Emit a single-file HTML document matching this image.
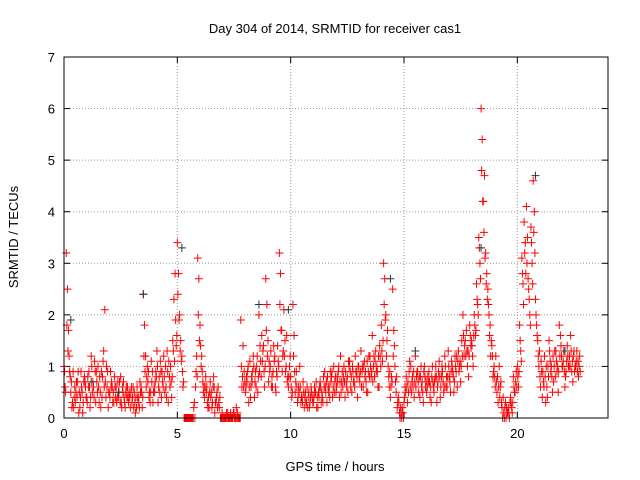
<!DOCTYPE html>
<html><head><meta charset="utf-8"><style>
html,body{margin:0;padding:0;background:#fff;}
svg{display:block;font-family:"Liberation Sans",sans-serif;}
</style></head><body>
<svg id="chart" width="640" height="480">
<text x="335" y="33" font-size="13" text-anchor="middle">Day 304 of 2014, SRMTID for receiver cas1</text>
<text x="335" y="471" font-size="13" text-anchor="middle">GPS time / hours</text>
<text x="18" y="237" font-size="13" text-anchor="middle" transform="rotate(-90 18 237)">SRMTID / TECUs</text>
<g id="grid"></g>
<g id="ticks"></g>
<g id="marks"></g>
<rect x="64" y="57" width="544" height="361" fill="none" stroke="#000" stroke-width="1"/>
</svg>
<script>
const xTicks=[0,5,10,15,20];
const yTicks=[0,1,2,3,4,5,6,7];
const hourStarts=[0,1,2,3,4,5,6,7,8,9,10,11,12,13,14,15,16,17,18,19,20,21,22];
const seriesA=[
[1.0,3.2,1.7,0.5,0.9,0.3,0.7,0.2,0.5,0.8],
[0.4,0.9,1.2,0.6,0.3,1.0,0.5,0.8,2.1,0.6],
[0.5,0.7,0.3,0.6,0.4,0.8,0.5,0.2,0.6,0.4],
[0.3,0.5,0.2,0.4,0.6,2.4,1.2,0.7,0.3,0.9],
[0.5,1.3,0.8,0.4,1.2,0.6,0.3,1.0,1.5,2.8],
[3.4,2.0,1.2,0.0,0.0,0.0,0.0,0.0,0.6,3.1],
[1.8,0.9,0.4,0.6,0.2,0.5,0.8,0.3,0.6,0.0],
[0.0,0.0,0.0,0.0,0.0,0.1,0.2,0.0,1.9,1.4],
[0.5,0.9,1.1,0.7,0.4,1.0,2.0,0.8,1.4,2.7],
[1.5,1.0,0.6,1.2,0.8,3.2,1.7,2.1,1.0,0.6],
[0.8,2.2,0.5,0.3,1.0,0.4,0.2,0.3,0.5,0.6],
[0.3,0.5,0.2,0.7,0.4,0.9,0.3,0.6,0.8,1.0],
[0.5,0.9,1.2,0.6,0.4,0.8,1.1,0.5,0.7,0.9],
[1.0,1.3,0.6,0.9,0.5,1.2,1.6,0.8,1.0,0.6],
[1.8,3.0,2.0,1.0,0.4,2.5,1.0,0.2,0.1,0.0],
[0.3,0.8,0.5,1.0,0.6,1.2,0.9,0.4,0.7,1.0],
[0.5,0.9,0.3,0.6,1.0,0.7,0.4,0.9,1.2,0.6],
[0.8,1.1,0.5,0.9,1.3,0.7,2.0,1.5,1.0,1.8],
[1.4,2.0,2.6,3.5,6.0,4.2,3.2,2.5,1.8,1.2],
[0.8,0.5,1.0,0.3,0.1,0.0,0.2,0.4,0.3,0.5],
[1.0,1.8,3.1,3.8,4.1,2.5,3.7,4.6,2.3,1.5],
[0.8,0.4,1.2,0.6,1.5,1.0,0.7,1.3,0.5,1.6],
[1.0,0.6,1.4,1.2,0.9,1.3,1.1,0.8]];
const seriesB=[
[0.6,2.5,0.9,0.2,0.4,0.7,0.1,0.9,0.3,0.6],
[0.8,0.2,0.5,1.1,0.7,0.3,0.9,1.3,0.4,0.2],
[0.9,0.3,0.6,0.4,0.7,0.2,0.4,0.6,0.3,0.5],
[0.6,0.1,0.4,0.7,0.2,1.8,0.8,0.4,1.1,0.5],
[0.9,0.3,1.1,0.7,0.5,1.3,0.8,0.4,2.3,1.4],
[2.8,1.5,0.6,0.0,0.0,0.0,0.0,0.3,1.2,2.7],
[1.0,0.5,0.8,0.2,0.7,0.3,0.1,0.5,0.2,0.0],
[0.0,0.0,0.0,0.1,0.0,0.0,0.1,0.0,0.6,0.9],
[0.8,0.3,0.6,1.2,0.9,0.5,1.4,1.1,0.6,2.2],
[1.1,0.6,1.4,0.5,1.1,2.8,1.2,1.5,0.7,1.0],
[0.4,1.6,0.9,0.6,0.3,0.7,0.5,0.2,0.3,0.4],
[0.6,0.2,0.4,0.3,0.8,0.5,0.6,0.9,0.4,0.7],
[0.8,0.4,0.7,1.0,0.7,1.1,0.6,0.9,1.2,0.4],
[0.7,0.9,1.1,0.5,1.2,0.8,1.0,1.3,0.6,1.2],
[1.1,2.7,1.5,0.6,0.8,1.7,0.5,0.4,0.2,0.1],
[0.6,0.3,1.1,0.7,0.4,0.8,0.5,1.0,0.3,0.6],
[0.8,0.4,1.0,0.7,0.3,1.1,0.8,0.5,0.6,1.3],
[0.5,0.9,1.2,0.6,1.0,1.5,1.2,1.7,0.8,1.4],
[1.0,1.6,2.2,3.0,5.4,4.7,2.8,2.0,1.5,0.9],
[1.2,0.3,0.6,0.0,0.2,0.1,0.0,0.2,0.6,0.9],
[0.6,1.3,2.6,3.4,3.5,2.0,3.0,4.0,1.8,1.0],
[1.1,0.7,0.3,1.0,1.1,0.5,1.3,0.9,1.8,1.2],
[1.3,0.9,1.0,1.6,0.7,1.0,0.9,1.2]];
const seriesC=[
[0.9,1.8,1.2,0.7,0.2,0.5,0.9,0.4,0.1,0.7],
[0.3,0.6,1.0,0.4,0.9,0.6,0.2,1.1,0.7,0.9],
[0.4,0.6,0.8,0.3,0.5,0.3,0.7,0.5,0.4,0.2],
[0.4,0.3,0.6,0.2,0.5,1.2,0.6,0.9,0.5,0.3],
[0.7,1.0,0.5,0.9,0.8,0.4,1.1,0.7,1.3,1.9],
[2.4,1.3,0.9,0.0,0.0,0.0,0.0,0.2,0.9,2.0],
[1.4,0.7,0.6,0.3,0.5,0.2,0.6,0.4,0.3,0.0],
[0.0,0.0,0.1,0.0,0.0,0.0,0.0,0.0,1.0,0.6],
[0.6,1.0,0.4,0.9,0.7,1.2,0.9,1.6,0.9,1.7],
[0.7,1.3,0.9,0.6,1.4,2.2,0.9,1.2,1.6,0.8],
[0.6,1.2,0.7,0.4,0.6,0.3,0.4,0.6,0.2,0.5],
[0.4,0.7,0.5,0.6,0.3,0.6,0.8,0.4,0.9,0.5],
[0.6,1.0,0.5,0.8,0.9,0.5,0.9,1.0,0.6,0.8],
[0.8,0.6,1.0,0.7,0.9,1.0,0.7,1.1,0.9,1.4],
[1.3,2.2,1.2,0.8,0.6,1.2,0.7,0.3,0.0,0.2],
[0.4,0.6,0.9,0.5,0.9,0.6,0.7,0.8,0.5,0.8],
[0.6,0.7,0.8,0.5,0.8,0.9,0.6,0.7,1.0,0.8],
[0.7,1.0,0.7,1.2,0.9,1.0,1.6,1.2,1.3,1.6],
[1.2,1.8,2.3,3.3,4.8,3.6,2.6,2.2,1.2,0.8],
[0.6,0.8,0.4,0.2,0.0,0.2,0.1,0.3,0.8,0.7],
[0.8,1.5,2.8,3.2,3.0,2.3,3.4,3.6,2.0,1.2],
[0.6,0.9,0.8,0.4,1.3,0.8,1.0,1.1,0.9,1.4],
[1.1,0.8,1.2,1.0,1.1,0.9,1.3,1.0]];
const seriesD=[
[0.5,1.3,0.8,0.3,0.6,0.4,0.5,0.6,0.7,0.4],
[0.6,0.4,0.7,0.9,0.5,0.8,0.4,0.6,1.0,0.5],
[0.6,0.5,0.4,0.7,0.3,0.6,0.3,0.4,0.5,0.6],
[0.2,0.4,0.3,0.5,0.4,0.9,1.0,0.5,0.7,0.6],
[0.8,0.6,0.9,0.6,1.0,0.9,0.6,0.8,1.1,1.6],
[1.9,1.1,0.7,0.0,0.0,0.0,0.0,0.0,0.8,1.5],
[1.2,0.6,0.5,0.4,0.4,0.6,0.3,0.2,0.4,0.1],
[0.0,0.1,0.0,0.0,0.1,0.0,0.0,0.0,0.8,0.7],
[0.7,0.6,0.8,1.0,0.6,0.8,1.1,1.3,1.0,1.2],
[0.9,0.8,1.1,0.9,1.0,1.7,1.3,0.9,0.8,1.2],
[0.5,0.9,0.6,0.5,0.4,0.5,0.3,0.4,0.4,0.3],
[0.5,0.4,0.6,0.5,0.6,0.7,0.5,0.7,0.6,0.8],
[0.7,0.7,0.9,0.7,0.6,1.0,0.8,0.7,0.9,1.0],
[0.9,1.0,0.8,1.1,0.8,0.9,1.2,0.9,1.2,1.0],
[1.5,1.9,1.7,0.9,0.7,1.4,0.8,0.3,0.1,0.0],
[0.5,0.7,0.6,0.8,0.7,0.9,0.8,0.6,0.9,0.7],
[0.7,0.6,0.7,0.8,0.6,0.8,1.0,0.6,0.8,1.0],
[0.9,0.8,1.0,1.1,1.1,1.2,1.4,1.3,1.2,1.5],
[1.6,1.7,2.0,2.7,4.2,3.1,2.3,1.6,1.4,1.0],
[0.7,0.6,0.7,0.4,0.3,0.1,0.3,0.1,0.5,0.6],
[0.9,1.1,2.2,2.8,2.7,1.8,2.6,3.2,1.6,1.3],
[0.9,0.6,1.0,0.8,0.9,1.2,0.8,1.0,1.2,1.0],
[0.9,1.1,1.0,1.3,1.2,1.0,1.1,0.9]];
const grayTimes=[0.3,1.2,3.5,5.2,8.6,9.9,14.4,15.5,18.4,20.8,22.1,2.4];
const grayValues=[1.9,0.7,2.4,3.3,2.2,2.1,2.7,1.3,3.3,4.7,1.3,0.5];

const X0=64,X1=608,Y0=418,Y1=57;
const xs=t=>X0+(t/24)*(X1-X0);
const ys=v=>Y0-(v/7)*(Y0-Y1);
const NS="http://www.w3.org/2000/svg";
const grid=document.getElementById('grid'),ticks=document.getElementById('ticks'),marks=document.getElementById('marks');
function mk(tag,attrs,parent){const e=document.createElementNS(NS,tag);for(const k in attrs)e.setAttribute(k,attrs[k]);parent.appendChild(e);return e;}
yTicks.forEach(v=>{
  const y=ys(v);
  if(v>0&&v<7){const g=mk('line',{x1:X0,x2:X1,y1:y,y2:y,stroke:'#999','stroke-dasharray':'1,2'},grid);
  
  }
  mk('line',{x1:X0,x2:X0+6,y1:y,y2:y,stroke:'#000'},ticks);
  mk('line',{x1:X1,x2:X1-6,y1:y,y2:y,stroke:'#000'},ticks);
  const t=mk('text',{x:X0-9,y:y+5,'font-size':13,'text-anchor':'end'},ticks);t.textContent=v;
  
  
});
xTicks.forEach(v=>{
  const x=xs(v);
  if(v>0){const g=mk('line',{x1:x,x2:x,y1:Y0,y2:Y1,stroke:'#999','stroke-dasharray':'1,2'},grid);
  
  }
  mk('line',{x1:x,x2:x,y1:Y0,y2:Y0-6,stroke:'#000'},ticks);
  mk('line',{x1:x,x2:x,y1:Y1,y2:Y1+6,stroke:'#000'},ticks);
  const t=mk('text',{x:x,y:Y0+20,'font-size':13,'text-anchor':'middle'},ticks);t.textContent=v;
  
  
});
function plus(t,v,color){
  const x=xs(t),y=ys(v);
  const p=mk('path',{d:`M${x-4},${y}H${x+4}M${x},${y-4}V${y+4}`,stroke:color,'stroke-width':1,fill:'none'},marks);
  
  
}
hourStarts.forEach((h,i)=>{
  seriesA[i].forEach((v,j)=>plus(h+j/10,v,'#f00'));
  seriesC[i].forEach((v,j)=>plus(h+j/10+0.025,v,'#f00'));
  seriesB[i].forEach((v,j)=>plus(h+j/10+0.05,v,'#f00'));
  seriesD[i].forEach((v,j)=>plus(h+j/10+0.075,v,'#f00'));
});
grayTimes.forEach((t,i)=>plus(t,grayValues[i],'#333'));
</script>
</body></html>
